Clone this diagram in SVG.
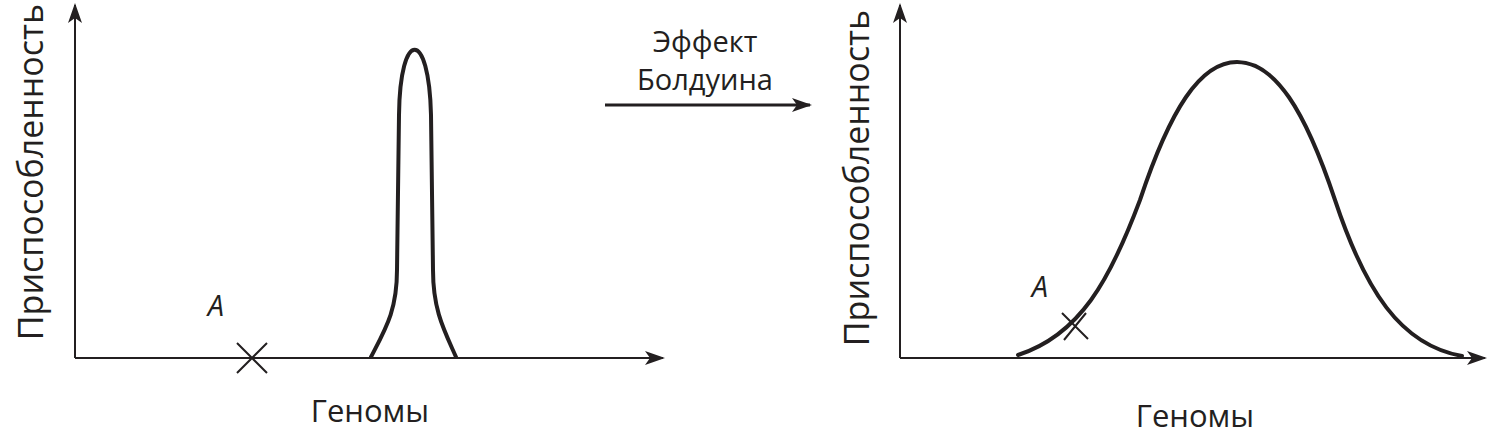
<svg xmlns="http://www.w3.org/2000/svg" width="1492" height="444" viewBox="0 0 1492 444">
<style>
.ax{stroke:#231f20;stroke-width:2;fill:none}
.cv{stroke:#231f20;stroke-width:4;fill:none;stroke-linecap:round}
.t{font-family:"Open Sans","Noto Sans",sans-serif;fill:#231f20}
</style>
<defs><marker id="ah" markerWidth="20" markerHeight="14" refX="18" refY="7" orient="auto" markerUnits="userSpaceOnUse"><path d="M0,0 L20,7 L0,14 L5,7 Z" fill="#231f20"/></marker></defs>
<g id="connectors">
<line class="ax" x1="75" y1="358" x2="75" y2="5" marker-end="url(#ah)"/>
<line class="ax" x1="75" y1="358" x2="663" y2="358" marker-end="url(#ah)"/>
<line class="ax" x1="900" y1="358" x2="900" y2="5" marker-end="url(#ah)"/>
<line class="ax" x1="900" y1="358" x2="1485" y2="358" marker-end="url(#ah)"/>
<line x1="605" y1="105" x2="810" y2="105" stroke="#231f20" stroke-width="3" marker-end="url(#ah)"/>
</g>
<g id="left-plot">
<path class="cv" d="M371,357 C386,328 397,310 397,270 L399,115 C400,28 429,28 431,115 L433,270 C433,310 444,330 456,357"/>
<path class="ax" d="M237,343 L267,373 M267,343 L237,373"/>
<text class="t" x="216" y="316" font-size="29" font-style="italic" text-anchor="middle">A</text>
<text class="t" x="370" y="422" font-size="31" text-anchor="middle">Геномы</text>
<text class="t" transform="translate(43,172) rotate(-90)" font-size="34" text-anchor="middle">Приспособленность</text>
</g>
<g id="middle">
<text class="t" x="705" y="52" font-size="29" text-anchor="middle">Эффект</text>
<text class="t" x="705" y="90" font-size="29" text-anchor="middle">Болдуина</text>
</g>
<g id="right-plot">
<path class="cv" d="M1018,355 C1080,335 1110,280 1140,200 C1170,110 1200,62 1237,62 C1275,62 1305,110 1335,200 C1365,290 1400,345 1462,356"/>
<path class="ax" d="M1062,313 L1088,339 M1064,340 L1086,313"/>
<text class="t" x="1040" y="297" font-size="29" font-style="italic" text-anchor="middle">A</text>
<text class="t" x="1195" y="427" font-size="31" text-anchor="middle">Геномы</text>
<text class="t" transform="translate(869,178) rotate(-90)" font-size="34" text-anchor="middle">Приспособленность</text>
</g>
</svg>
